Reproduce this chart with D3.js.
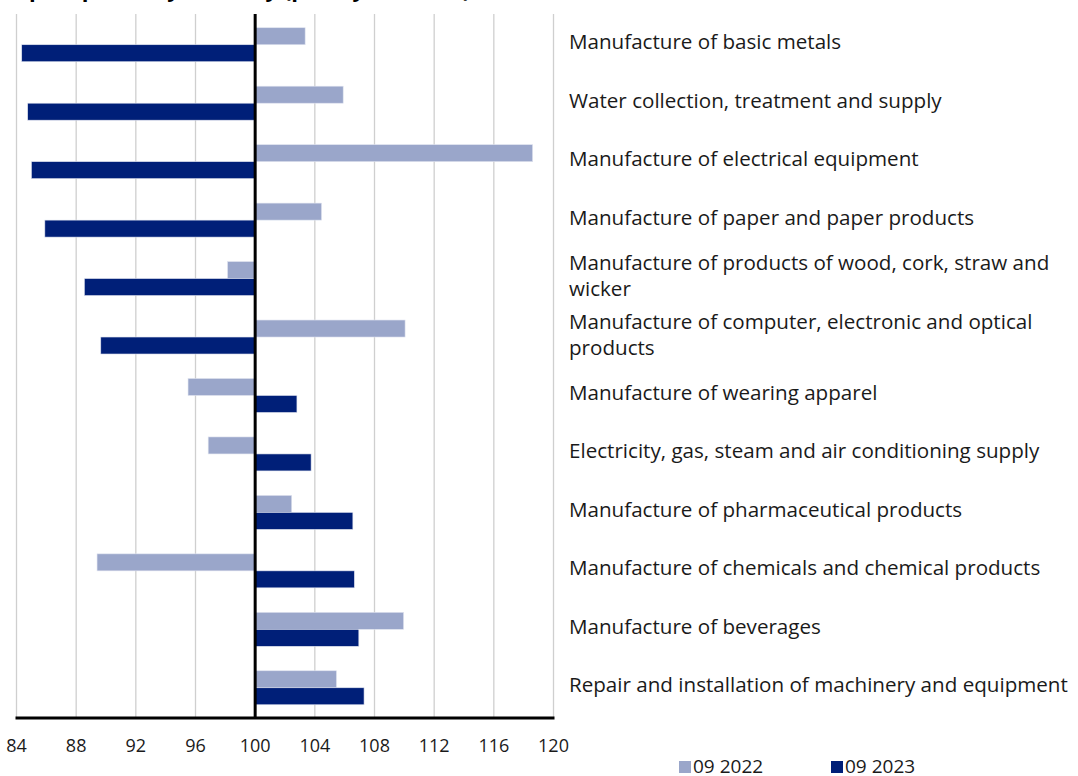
<!DOCTYPE html>
<html>
<head>
<meta charset="utf-8">
<script src="https://cdn.jsdelivr.net/npm/d3@7"></script>
<style>
  body { margin: 0; background: #fff; }
  svg { display: block; font-family: "Open Sans", "Noto Sans", sans-serif; }
</style>
</head>
<body>
<svg id="chart" width="1078" height="776"></svg>
<script>
// industries, top to bottom
const categories = [
  "Manufacture of basic metals",
  "Water collection, treatment and supply",
  "Manufacture of electrical equipment",
  "Manufacture of paper and paper products",
  "Manufacture of products of wood, cork, straw and wicker",
  "Manufacture of computer, electronic and optical products",
  "Manufacture of wearing apparel",
  "Electricity, gas, steam and air conditioning supply",
  "Manufacture of pharmaceutical products",
  "Manufacture of chemicals and chemical products",
  "Manufacture of beverages",
  "Repair and installation of machinery and equipment"
];
const series = ["09 2022", "09 2023"];
const values2022 = [103.35, 105.9, 118.6, 104.45, 98.15, 110.05, 95.5, 96.85, 102.45, 89.4, 109.95, 105.45];
const values2023 = [84.35, 84.75, 85.0, 85.9, 88.55, 89.65, 102.8, 103.75, 106.55, 106.65, 106.95, 107.3];
const tickValues = [84, 88, 92, 96, 100, 104, 108, 112, 116, 120];
const colors = ["#9aa6ca", "#001f78"];

const svg = d3.select("#chart");

const x = d3.scaleLinear().domain([84, 120]).range([16.5, 553.5]);
const y = d3.scaleBand().domain(categories).range([15.5, 717]);
const sub = d3.scaleBand().domain(series).range([0, y.bandwidth()]).paddingOuter(0.72);

// title (cut off by the top edge in the source)
svg.append("text")
  .attr("x", 0)
  .attr("y", -3)
  .style("font-weight", "bold")
  .style("font-size", "22px")
  .text("Import prices by industry (prev. year = 100)");

// gridlines
svg.append("g")
  .selectAll("line")
  .data(tickValues.filter(d => d !== 100))
  .join("line")
  .attr("x1", d => x(d))
  .attr("x2", d => x(d))
  .attr("y1", 14)
  .attr("y2", 717)
  .attr("stroke", "#cfcfcf")
  .attr("stroke-width", 1.3);

// bars
const rows = categories.map((c, i) => ({ cat: c, vals: [values2022[i], values2023[i]] }));
const grp = svg.append("g")
  .selectAll("g")
  .data(rows)
  .join("g")
  .attr("transform", d => "translate(0," + y(d.cat) + ")");

grp.selectAll("rect")
  .data(d => d.vals.map((v, k) => ({ key: series[k], v: v, k: k })))
  .join("rect")
  .attr("x", d => x(Math.min(100, d.v)))
  .attr("width", d => Math.abs(x(d.v) - x(100)))
  .attr("y", d => sub(d.key))
  .attr("height", sub.bandwidth())
  .attr("fill", d => colors[d.k])
  .attr("stroke", "#dfe3ef")
  .attr("stroke-width", 0.6);

// 100 line and bottom axis
svg.append("line")
  .attr("x1", x(100)).attr("x2", x(100))
  .attr("y1", 14).attr("y2", 718)
  .attr("stroke", "#000").attr("stroke-width", 3);

svg.append("line")
  .attr("x1", x(84) - 1).attr("x2", x(120) + 1)
  .attr("y1", 718).attr("y2", 718)
  .attr("stroke", "#000").attr("stroke-width", 3);

// tick labels
svg.append("g")
  .selectAll("text")
  .data(tickValues)
  .join("text")
  .attr("x", d => x(d))
  .attr("y", 752)
  .attr("text-anchor", "middle")
  .style("font-size", "18px")
  .attr("fill", "#1a1a1a")
  .text(d => d);

// category labels, wrapped
const maxW = 508;
const lbl = svg.append("g")
  .selectAll("text")
  .data(categories)
  .join("text")
  .attr("x", 569)
  .style("font-size", "20.6px")
  .attr("fill", "#1a1a1a");

lbl.each(function (d) {
  const t = d3.select(this);
  const words = d.split(" ");
  let lines = [], line = [];
  const probe = t.append("tspan");
  words.forEach(w => {
    probe.text(line.concat(w).join(" "));
    if (probe.node().getComputedTextLength() > maxW && line.length) {
      lines.push(line.join(" "));
      line = [w];
    } else line.push(w);
  });
  lines.push(line.join(" "));
  probe.remove();
  const lh = 26;
  const cy = y(d) + y.bandwidth() / 2;
  lines.forEach((l, i) => {
    t.append("tspan")
      .attr("x", 569)
      .attr("y", cy - (lines.length - 1) * lh / 2 + i * lh)
      .attr("dy", "0.22em")
      .text(l);
  });
});

// legend
const leg = svg.append("g")
  .selectAll("g")
  .data(series)
  .join("g")
  .attr("transform", (d, i) => "translate(" + (679 + i * 152) + ",0)");
leg.append("rect")
  .attr("x", 0).attr("y", 761)
  .attr("width", 12).attr("height", 12)
  .attr("fill", (d, i) => colors[i]);
leg.append("text")
  .attr("x", 14).attr("y", 773)
  .style("font-size", "19px")
  .attr("fill", "#1a1a1a")
  .text(d => d);
</script>
</body>
</html>
